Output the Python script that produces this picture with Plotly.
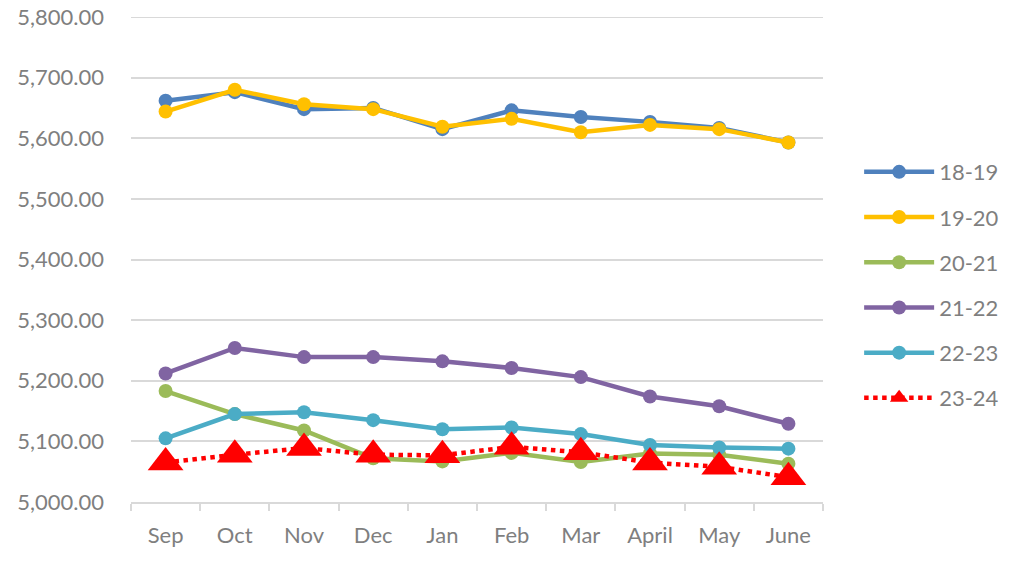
import plotly.graph_objects as go

months = ["Sep", "Oct", "Nov", "Dec", "Jan", "Feb", "Mar", "April", "May", "June"]

s18_19 = [5662, 5676, 5648, 5650, 5615, 5646, 5635, 5627, 5617, 5593]
s19_20 = [5644, 5680, 5656, 5648, 5619, 5632, 5610, 5622, 5615, 5593]
s20_21 = [5183, 5145, 5118, 5072, 5067, 5081, 5066, 5080, 5078, 5063]
s21_22 = [5212, 5254, 5239, 5239, 5232, 5221, 5206, 5174, 5158, 5129]
s22_23 = [5105, 5145, 5148, 5135, 5120, 5123, 5112, 5094, 5090, 5088]
s23_24 = [5065, 5078, 5089, 5078, 5077, 5091, 5082, 5065, 5058, 5041]

series = [
    ("18-19", s18_19, "#4F81BD"),
    ("19-20", s19_20, "#FFC000"),
    ("20-21", s20_21, "#9BBB59"),
    ("21-22", s21_22, "#8064A2"),
    ("22-23", s22_23, "#4BACC6"),
]

grey = "#7F7F7F"
fnt = "Lato, 'Open Sans', sans-serif"

fig = go.Figure()
for name, vals, col in series:
    fig.add_trace(go.Scatter(
        x=months, y=vals, name=name, mode="lines+markers",
        line=dict(color=col, width=4.5),
        marker=dict(color=col, size=14, symbol="circle"),
        legendgroup=name,
    ))

fig.add_trace(go.Scatter(
    x=months, y=s23_24, name="23-24", mode="lines+markers",
    line=dict(color="#FF0000", width=4.5, dash="dot"),
    marker=dict(color="#FF0000", size=31, symbol="triangle-up"),
    legendgroup="23-24",
))

fig.update_layout(
    width=1024, height=570,
    margin=dict(l=131, r=201, t=17, b=68),
    paper_bgcolor="white", plot_bgcolor="white",
    font=dict(family=fnt, size=22, color=grey),
    legend=dict(
        xref="container", yref="container",
        x=0.839, y=0.735, xanchor="left", yanchor="top",
        font=dict(size=22, color=grey),
        itemwidth=70, tracegroupgap=13.6,
        bgcolor="rgba(0,0,0,0)",
    ),
)

# top gridline sits on the plot edge, plotly skips it
fig.add_hline(y=5800, line=dict(color="#D9D9D9", width=2), layer="below")

fig.update_xaxes(
    automargin=False, range=[-0.5, len(months) - 0.5],
    showgrid=False, showline=True, linecolor="#D9D9D9", linewidth=2,
    ticks="outside", tickson="boundaries", ticklen=7, tickcolor="#D9D9D9",
    tickwidth=2, ticklabelstandoff=13, tickfont=dict(size=22, color=grey),
)
fig.update_yaxes(
    automargin=False, ticklabeloverflow="allow",
    range=[5000, 5800], dtick=100, tickformat=",.2f",
    showgrid=True, gridcolor="#D9D9D9", gridwidth=2,
    zeroline=False, showline=False, ticks="",
    ticklabelstandoff=26, tickfont=dict(size=22, color=grey),
)

# drop the browser's default 8px body margin so the figure fills the window
fig.write_html("out.html", config={"displayModeBar": False},
               post_script="document.body.style.margin='0';")
